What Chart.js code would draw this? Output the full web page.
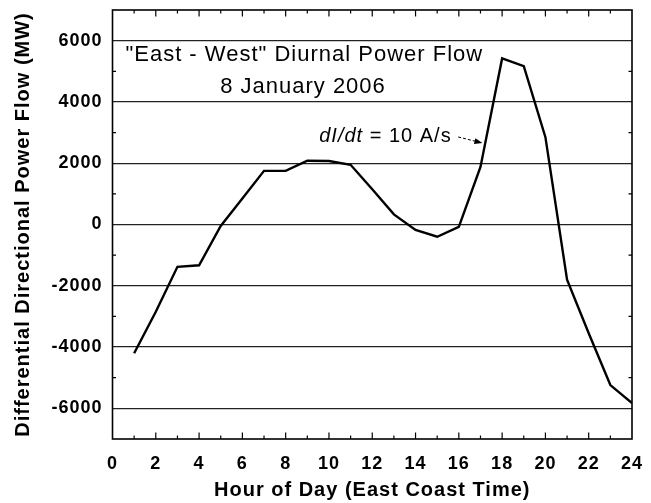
<!DOCTYPE html>
<html>
<head>
<meta charset="utf-8">
<script src="https://cdn.jsdelivr.net/npm/chart.js@4.4.1/dist/chart.umd.min.js"></script>
<style>
  html, body { margin: 0; padding: 0; background: #fff; }
  #wrap { width: 651px; height: 503px; }
</style>
</head>
<body>
<div id="wrap"><canvas id="flowChart"></canvas></div>
<script>
// hourly values (MW)
const hours = [1, 2, 3, 4, 5, 6, 7, 8, 9, 10, 11, 12, 13, 14, 15, 16, 17, 18, 19, 20, 21, 22, 23, 24];
const flowMW = [-4200, -2850, -1380, -1330, -50, 850, 1750, 1750, 2080, 2070, 1950, 1150,
                330, -180, -400, -80, 1880, 5420, 5170, 2850, -1800, -3550, -5240, -5830];
const xTicks = [0, 2, 4, 6, 8, 10, 12, 14, 16, 18, 20, 22, 24];
const yTicks = [-6000, -4000, -2000, 0, 2000, 4000, 6000];
const xMinor = [1, 2, 3, 4, 5, 6, 7, 8, 9, 10, 11, 12, 13, 14, 15, 16, 17, 18, 19, 20, 21, 22, 23];
const yMinor = [-5000, -3000, -1000, 1000, 3000, 5000];

const FONT = "'Liberation Sans', Arial, sans-serif";

// wider lettering like the original scan
const spacing = {
    id: 'spacing',
    beforeLayout(chart) { chart.ctx.letterSpacing = '1px'; },
    beforeDraw(chart) { chart.ctx.letterSpacing = '1px'; }
};

// frame + inward tick marks
const frame = {
    id: 'frame',
    afterDraw(chart) {
        const { ctx, chartArea: a, scales: { x, y } } = chart;
        ctx.save();
        ctx.strokeStyle = '#000';
        ctx.lineWidth = 1.2;
        ctx.beginPath();
        xMinor.forEach(h => {
            const px = x.getPixelForValue(h);
            const len = h % 2 ? 3.5 : 6.5;
            ctx.moveTo(px, a.bottom); ctx.lineTo(px, a.bottom - len);
            ctx.moveTo(px, a.top); ctx.lineTo(px, a.top + len);
        });
        yMinor.forEach(v => {
            const py = y.getPixelForValue(v);
            ctx.moveTo(a.left, py); ctx.lineTo(a.left + 3.5, py);
            ctx.moveTo(a.right, py); ctx.lineTo(a.right - 3.5, py);
        });
        ctx.stroke();
        ctx.lineWidth = 1.6;
        ctx.strokeRect(a.left, a.top, a.right - a.left, a.bottom - a.top);
        ctx.restore();
    }
};

// text notes inside the plot
const notes = {
    id: 'notes',
    afterDraw(chart) {
        const { ctx, scales: { x, y } } = chart;
        ctx.save();
        ctx.fillStyle = '#000';
        ctx.letterSpacing = '1px';
        ctx.textBaseline = 'alphabetic';
        ctx.textAlign = 'center';
        ctx.font = '22px ' + FONT;
        ctx.fillText('"East - West" Diurnal Power Flow', x.getPixelForValue(8.86), y.getPixelForValue(5336));
        ctx.fillText('8 January 2006', x.getPixelForValue(8.8), y.getPixelForValue(4292));

        ctx.textAlign = 'left';
        let tx = x.getPixelForValue(9.55);
        const ty = y.getPixelForValue(2693);
        ctx.font = 'italic 20px ' + FONT;
        ctx.fillText('dI/dt', tx, ty);
        tx += ctx.measureText('dI/dt').width;
        ctx.font = '20px ' + FONT;
        ctx.fillText(' = 10 A/s', tx, ty);

        // dashed arrow to the curve
        const x0 = x.getPixelForValue(15.97), y0 = y.getPixelForValue(2856);
        const x1 = x.getPixelForValue(17.09), y1 = y.getPixelForValue(2660);
        const ang = Math.atan2(y1 - y0, x1 - x0);
        ctx.strokeStyle = '#000';
        ctx.lineWidth = 1;
        ctx.setLineDash([3, 2]);
        ctx.beginPath();
        ctx.moveTo(x0, y0);
        ctx.lineTo(x1 - 6 * Math.cos(ang), y1 - 6 * Math.sin(ang));
        ctx.stroke();
        ctx.setLineDash([]);
        ctx.beginPath();
        ctx.moveTo(x1, y1);
        ctx.lineTo(x1 - 8 * Math.cos(ang) + 3 * Math.sin(ang), y1 - 8 * Math.sin(ang) - 3 * Math.cos(ang));
        ctx.lineTo(x1 - 8 * Math.cos(ang) - 3 * Math.sin(ang), y1 - 8 * Math.sin(ang) + 3 * Math.cos(ang));
        ctx.closePath();
        ctx.fill();
        ctx.restore();
    }
};

new Chart(document.getElementById('flowChart'), {
    type: 'line',
    data: {
        datasets: [{
            data: hours.map((h, i) => ({ x: h, y: flowMW[i] })),
            borderColor: '#000',
            borderWidth: 2.4,
            pointRadius: 0,
            tension: 0,
            fill: false
        }]
    },
    options: {
        responsive: true,
        maintainAspectRatio: false,
        animation: false,
        layout: { padding: { top: 10, right: 19, left: 0, bottom: 0 } },
        plugins: { legend: { display: false }, tooltip: { enabled: false } },
        scales: {
            x: {
                type: 'linear',
                min: 0,
                max: 24,
                afterBuildTicks: s => { s.ticks = xTicks.map(v => ({ value: v })); },
                afterFit: s => { s.height = 64; s.paddingLeft = 0; s.paddingRight = 0; },
                grid: { display: false },
                border: { display: false },
                ticks: {
                    color: '#000',
                    padding: 6,
                    maxRotation: 0,
                    autoSkip: false,
                    callback: v => String(v),
                    font: { family: FONT, size: 18, weight: 'bold' }
                },
                title: {
                    display: true,
                    text: 'Hour of Day (East Coast Time)',
                    color: '#000',
                    padding: { top: 0, bottom: 1 },
                    font: { family: FONT, size: 20, weight: 'bold' }
                }
            },
            y: {
                min: -7000,
                max: 7000,
                afterBuildTicks: s => { s.ticks = yTicks.map(v => ({ value: v })); },
                afterFit: s => { s.width = 112.5; s.paddingTop = 0; s.paddingBottom = 0; },
                grid: { color: '#222', lineWidth: 1.3, drawTicks: false },
                border: { display: false },
                ticks: {
                    color: '#000',
                    padding: 10,
                    autoSkip: false,
                    callback: v => String(v),
                    font: { family: FONT, size: 18, weight: 'bold' }
                },
                title: {
                    display: true,
                    text: 'Differential Directional Power Flow (MW)',
                    color: '#000',
                    padding: { top: 11, bottom: 0 },
                    font: { family: FONT, size: 20, weight: 'bold' }
                }
            }
        }
    },
    plugins: [spacing, frame, notes]
});
</script>
</body>
</html>
